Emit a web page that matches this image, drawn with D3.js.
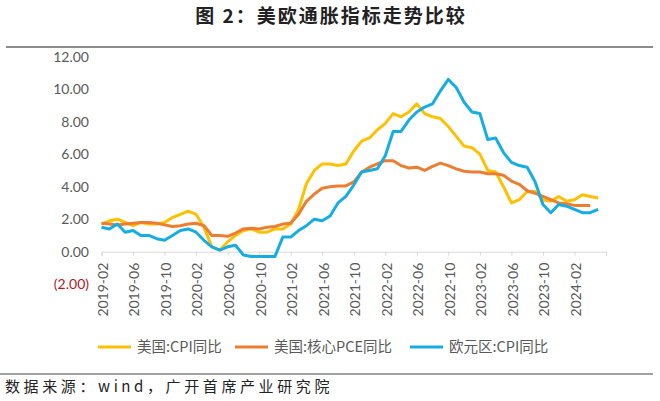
<!DOCTYPE html>
<html lang="zh">
<head>
<meta charset="utf-8">
<title>美欧通胀指标走势比较</title>
<style>
  body { margin: 0; background: #fff; }
  svg { display: block; }
</style>
</head>
<body>
<svg id="chart"></svg>
<script src="https://d3js.org/d3.v7.min.js"></script>
<script>
// monthly YoY, 2019-02 .. 2024-05
const usCPI = [1.7, 1.9, 2.0, 1.8, 1.6, 1.8, 1.7, 1.7, 1.8, 2.1, 2.3, 2.5,
  2.3, 1.5, 0.3, 0.1, 0.6, 1.0, 1.3, 1.4, 1.2, 1.2, 1.4, 1.4,
  1.7, 2.6, 4.2, 5.0, 5.4, 5.4, 5.3, 5.4, 6.2, 6.8, 7.0, 7.5,
  7.9, 8.5, 8.3, 8.6, 9.1, 8.5, 8.3, 8.2, 7.7, 7.1, 6.5, 6.4,
  6.0, 5.0, 4.9, 4.0, 3.0, 3.2, 3.7, 3.7, 3.2, 3.1, 3.4, 3.1,
  3.2, 3.5, 3.4, 3.3];
// 2019-02 .. 2024-04
const usCorePCE = [1.75, 1.7, 1.65, 1.7, 1.75, 1.8, 1.8, 1.75, 1.65, 1.55, 1.6, 1.7,
  1.75, 1.6, 1.0, 1.0, 0.95, 1.15, 1.4, 1.45, 1.4, 1.5, 1.55, 1.7,
  1.75, 2.3, 3.1, 3.55, 3.9, 4.0, 4.05, 4.05, 4.3, 4.9, 5.2, 5.4,
  5.6, 5.6, 5.3, 5.15, 5.2, 5.0, 5.25, 5.45, 5.3, 5.1, 4.95, 4.9,
  4.9, 4.8, 4.8, 4.7, 4.35, 4.15, 3.75, 3.6, 3.4, 3.2, 3.0, 2.95,
  2.85, 2.85, 2.85];
// 2019-02 .. 2024-05
const euCPI = [1.5, 1.4, 1.7, 1.2, 1.3, 1.0, 1.0, 0.8, 0.7, 1.0, 1.3, 1.4,
  1.2, 0.7, 0.3, 0.1, 0.3, 0.4, -0.2, -0.3, -0.3, -0.3, -0.3, 0.9,
  0.9, 1.3, 1.6, 2.0, 1.9, 2.2, 3.0, 3.4, 4.1, 4.9, 5.0, 5.1,
  5.9, 7.4, 7.4, 8.1, 8.6, 8.9, 9.1, 9.9, 10.6, 10.1, 9.2, 8.6,
  8.5, 6.9, 7.0, 6.1, 5.5, 5.3, 5.2, 4.3, 2.9, 2.4, 2.9, 2.8,
  2.6, 2.4, 2.4, 2.6];

const tickLabels = ["2019-02", "2019-06", "2019-10", "2020-02", "2020-06", "2020-10",
  "2021-02", "2021-06", "2021-10", "2022-02", "2022-06", "2022-10",
  "2023-02", "2023-06", "2023-10", "2024-02"];
const yTicks = [-2, 0, 2, 4, 6, 8, 10, 12];

const seriesNames = ["美国:CPI同比", "美国:核心PCE同比", "欧元区:CPI同比"];
const seriesColors = ["#FFC000", "#ED7D31", "#16ACE4"];

const W = 660, H = 401;
const fmt = d3.timeFormat("%Y-%m");
// month categories 2019-02 .. 2024-06
const months = d3.timeMonths(new Date(2019, 1, 1), new Date(2024, 6, 1)).map(fmt);

const svg = d3.select("#chart").attr("width", W).attr("height", H);

const x = d3.scalePoint().domain(months).range([101.5, 606]);
const y = d3.scaleLinear().domain([-2, 12]).range([284.2, 56.7]);

// title + rules
svg.append("text")
  .attr("x", 331).attr("y", 23)
  .attr("text-anchor", "middle")
  .style("font-family", "'Noto Sans CJK SC', sans-serif")
  .style("font-size", "19px").style("font-weight", 700)
  .style("letter-spacing", "2px")
  .attr("fill", "#222")
  .text("图 2：美欧通胀指标走势比较");

svg.append("line").attr("x1", 6).attr("x2", 653).attr("y1", 47).attr("y2", 47)
  .attr("stroke", "#666").attr("stroke-width", 1.5);
svg.append("line").attr("x1", 0).attr("x2", 653).attr("y1", 374).attr("y2", 374)
  .attr("stroke", "#444").attr("stroke-width", 1.2);

// x axis at zero
const xTickVals = months.filter((m, i) => i % 4 === 0);
const xAxis = svg.append("g")
  .attr("transform", `translate(0,${y(0)})`)
  .call(d3.axisBottom(x).tickValues(xTickVals).tickSize(4)
    .tickFormat(d => tickLabels.includes(d) ? d : ""));
xAxis.select(".domain").attr("stroke", "#D9D9D9");
xAxis.selectAll(".tick line").attr("stroke", "#D9D9D9");
xAxis.selectAll(".tick text")
  .attr("transform", "rotate(-90)")
  .attr("x", -11).attr("y", 0).attr("dy", "0.42em")
  .style("text-anchor", "end")
  .style("font-family", "Lato, sans-serif").style("font-size", "14px")
  .attr("fill", "#595959");

// y axis labels
const yAxis = svg.append("g")
  .attr("transform", `translate(${x.range()[0]},0)`)
  .call(d3.axisLeft(y).tickValues(yTicks).tickSize(0).tickPadding(12.5)
    .tickFormat(v => v < 0 ? `(${Math.abs(v).toFixed(2)})` : v.toFixed(2)));
yAxis.select(".domain").remove();
yAxis.selectAll(".tick text")
  .style("font-family", "Lato, sans-serif").style("font-size", "14px")
  .attr("fill", d => d < 0 ? "#B0182A" : "#595959");

// lines
const line = d3.line()
  .x((d, i) => x(months[i]))
  .y(d => y(d));

[usCPI, usCorePCE, euCPI].forEach((vals, k) => {
  svg.append("path")
    .datum(vals)
    .attr("d", line)
    .attr("fill", "none")
    .attr("stroke", seriesColors[k])
    .attr("stroke-width", 3)
    .attr("stroke-linejoin", "round");
});

// legend
const legendX = [98, 235, 410];
const leg = svg.append("g");
seriesNames.forEach((name, k) => {
  leg.append("line")
    .attr("x1", legendX[k]).attr("x2", legendX[k] + 33)
    .attr("y1", 347).attr("y2", 347)
    .attr("stroke", seriesColors[k]).attr("stroke-width", 3);
  leg.append("text")
    .attr("x", legendX[k] + 39).attr("y", 347).attr("dy", "0.36em")
    .style("font-family", "'Noto Sans CJK SC', sans-serif")
    .style("font-size", "14.5px")
    .attr("fill", "#595959")
    .text(name);
});

// source
svg.append("text")
  .attr("x", 5).attr("y", 392)
  .style("font-family", "'Noto Sans CJK SC', sans-serif")
  .style("font-size", "15px")
  .style("letter-spacing", "3.6px")
  .attr("fill", "#222")
  .text("数据来源：wind，广开首席产业研究院");
</script>
</body>
</html>
